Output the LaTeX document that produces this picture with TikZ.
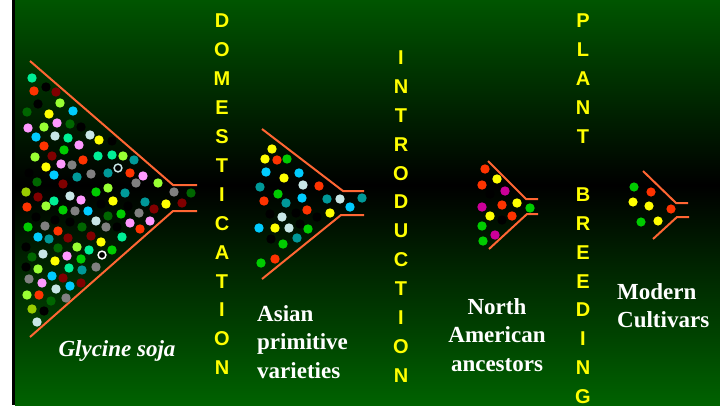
\documentclass[tikz,border=0pt]{standalone}
\usepackage{fontspec}
\setmainfont{Liberation Serif}
\newfontfamily\stagefont{Liberation Sans}
\usetikzlibrary{positioning}
\definecolor{bgTop}{HTML}{005500}
\definecolor{bgBottom}{HTML}{006200}
\definecolor{funnelOrange}{HTML}{FF6633}
\definecolor{stageYellow}{HTML}{FFFF00}
\definecolor{cMint}{HTML}{00F096}
\definecolor{cRed}{HTML}{FF3300}
\definecolor{cBlack}{HTML}{000000}
\definecolor{cMaroon}{HTML}{800000}
\definecolor{cLime}{HTML}{99FF33}
\definecolor{cDkGreen}{HTML}{006600}
\definecolor{cYellow}{HTML}{FFFF00}
\definecolor{cSky}{HTML}{00CCFF}
\definecolor{cPink}{HTML}{FF99FF}
\definecolor{cPale}{HTML}{C8E6E6}
\definecolor{cGreen}{HTML}{00CC00}
\definecolor{cTeal}{HTML}{009999}
\definecolor{cGray}{HTML}{808080}
\definecolor{cOlive}{HTML}{99CC00}
\definecolor{cMagenta}{HTML}{CC0099}

\begin{document}
\begin{tikzpicture}[
    x=1pt, y=-1pt,
    seed/.style={fill=#1},
    ring/.style={fill=black, draw=#1, line width=1.5pt},
    funnel/.style={draw=funnelOrange, line width=2pt},
    stage/.style={text=stageYellow, inner sep=0pt, align=center,
                  font=\fontsize{20}{28.9}\selectfont\stagefont\bfseries},
    caption/.style={text=white, inner sep=0pt,
                    font=\fontsize{23}{28.5}\selectfont\bfseries},
  ]
    \useasboundingbox (0,0) rectangle (720,405);
    % background
    \fill[white] (0,0) rectangle (12,405);
    \fill[black] (12,0) rectangle (15,405);
    \shade[top color=bgTop, bottom color=black] (15,0) rectangle (720,185);
    \shade[top color=black, bottom color=bgBottom] (15,185) rectangle (720,405);

    % wild pool
    \draw[funnel] (30,61) -- (173,185) -- (197,185);
    \draw[funnel] (30,337) -- (173,211) -- (197,211);
    \foreach \x/\y/\c in {32/78/cMint, 34/91/cRed, 46/87/cBlack, 56/92/cMaroon,
        38/104/cBlack, 60/103/cLime, 27/112/cDkGreen, 49/114/cYellow, 73/111/cSky,
        28/128/cPink, 44/127/cLime, 57/123/cPink, 70/124/cDkGreen, 81/127/cBlack,
        36/137/cSky, 55/136/cPale, 68/138/cMint, 90/135/cPale, 99/140/cYellow,
        112/141/cBlack, 44/146/cRed, 64/150/cGreen, 79/145/cPink, 35/157/cLime,
        52/156/cMaroon, 83/160/cRed, 98/156/cMint, 112/155/cMint, 123/156/cLime,
        134/160/cTeal, 46/167/cYellow, 61/164/cPink, 72/165/cGray, 29/173/cBlack,
        54/175/cSky, 77/177/cTeal, 91/174/cGray, 108/173/cTeal, 130/173/cRed,
        143/176/cPink, 37/182/cDkGreen, 63/184/cMaroon, 136/183/cGray, 158/183/cLime,
        174/192/cGray, 191/193/cDkGreen, 26/192/cOlive, 38/197/cMaroon, 70/196/cPale,
        81/200/cPink, 96/192/cGreen, 108/188/cLime, 125/193/cTeal, 54/201/cMint,
        27/207/cRed, 46/206/cLime, 63/210/cGreen, 75/211/cGray, 88/211/cSky,
        113/201/cYellow, 101/204/cBlack, 128/206/cBlack, 145/202/cTeal, 154/209/cMaroon,
        166/204/cYellow, 182/203/cMaroon, 36/217/cBlack, 55/220/cBlack, 70/222/cBlack,
        96/221/cPale, 108/216/cDkGreen, 121/214/cGreen, 139/213/cGray, 130/223/cPink,
        150/221/cPink, 140/229/cRed, 28/227/cGreen, 45/226/cGray, 82/227/cDkGreen,
        106/227/cGray, 117/227/cBlack, 58/231/cRed, 38/237/cSky, 49/239/cTeal,
        68/238/cMaroon, 91/236/cMaroon, 26/247/cBlack, 58/248/cDkGreen, 77/247/cLime,
        101/242/cYellow, 122/237/cMint, 89/250/cMint, 32/257/cDkGreen, 43/254/cPale,
        67/256/cPink, 81/259/cGreen, 112/250/cGreen, 55/261/cYellow, 26/267/cBlack,
        38/269/cLime, 69/268/cMint, 82/270/cTeal, 96/267/cGray, 29/279/cGray,
        42/283/cPink, 52/276/cSky, 63/278/cMaroon, 56/289/cPale, 70/286/cSky,
        81/283/cMaroon, 27/295/cLime, 39/295/cRed, 51/301/cDkGreen, 66/298/cGray,
        32/309/cOlive, 44/311/cBlack, 37/322/cPale}
      \fill[seed=\c] (\x,\y) circle (4.7pt);
    \draw[ring=cPale] (118,168) circle (3.9pt);
    \draw[ring=white] (102,255) circle (3.9pt);

    % landraces
    \draw[funnel] (262,129) -- (343,191) -- (364,191);
    \draw[funnel] (262,279) -- (341,215) -- (364,215);
    \foreach \x/\y/\c in {272/149/cYellow, 265/159/cYellow, 277/160/cRed, 287/159/cGreen,
        266/172/cSky, 284/178/cYellow, 299/173/cSky, 260/187/cTeal, 303/185/cPale,
        319/186/cRed, 278/194/cGreen, 264/201/cRed, 286/203/cTeal, 302/198/cSky,
        327/199/cTeal, 340/199/cPale, 362/198/cTeal, 350/207/cSky, 270/214/cBlack,
        307/210/cRed, 282/217/cPale, 296/213/cBlack, 317/217/cBlack, 330/213/cYellow,
        259/228/cSky, 275/228/cYellow, 289/228/cPale, 300/224/cBlack, 308/229/cGreen,
        271/239/cBlack, 283/244/cGreen, 297/238/cTeal, 261/263/cGreen, 275/259/cRed}
      \fill[seed=\c] (\x,\y) circle (4.7pt);

    % ancestors
    \draw[funnel] (488,161) -- (526,199) -- (538,199);
    \draw[funnel] (489,249) -- (527,214) -- (538,214);
    \foreach \x/\y/\c in {485/169/cRed, 497/179/cYellow, 482/185/cRed, 505/191/cMagenta,
        490/194/cBlack, 482/207/cMagenta, 502/205/cRed, 517/203/cYellow, 530/208/cGreen,
        490/216/cYellow, 512/216/cRed, 502/220/cBlack, 482/226/cGreen, 495/235/cMagenta,
        483/241/cGreen}
      \fill[seed=\c] (\x,\y) circle (4.7pt);

    % cultivars
    \draw[funnel] (643,171) -- (676,203) -- (688,203);
    \draw[funnel] (653,239) -- (677,217) -- (689,217);
    \foreach \x/\y/\c in {634/187/cGreen, 651/192/cRed, 633/202/cYellow, 649/206/cYellow,
        671/209/cRed, 641/222/cGreen, 658/221/cYellow}
      \fill[seed=\c] (\x,\y) circle (4.6pt);

    % stages
    \node[stage] (domestication) at (222,194.5) {D\\O\\M\\E\\S\\T\\I\\C\\A\\T\\I\\O\\N};
    \node[stage] (introduction) at (401,216.5) {I\\N\\T\\R\\O\\D\\U\\C\\T\\I\\O\\N};
    \node[stage] (breeding) at (583,209) {P\\L\\A\\N\\T\\[28.9pt]B\\R\\E\\E\\D\\I\\N\\G};

    % captions
    \node[caption, font=\fontsize{23}{28.5}\selectfont\bfseries\itshape] (soja) at (117,351) {Glycine soja};
    \node[caption, align=left, anchor=north west] (asian) at (257,305) {Asian\\primitive\\varieties};
    \node[caption, align=center, anchor=north] (northam) at (497,298) {North\\American\\ancestors};
    \node[caption, align=left, anchor=north west] (modern) at (617,283) {Modern\\Cultivars};
  \end{tikzpicture}
\end{document}
